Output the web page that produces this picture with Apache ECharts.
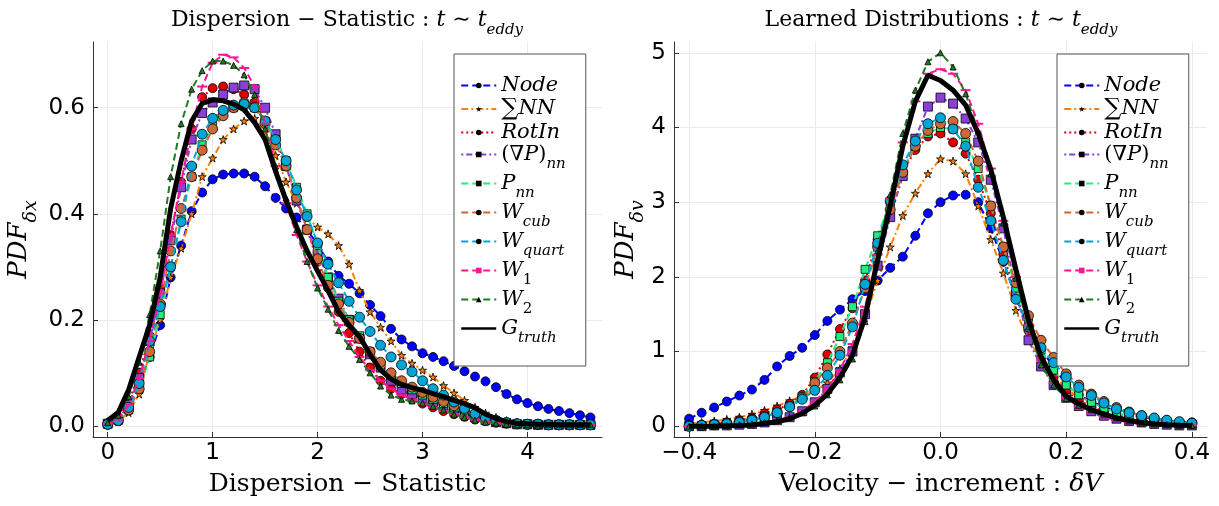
<!DOCTYPE html>
<html><head><meta charset="utf-8">
<script src="https://cdn.jsdelivr.net/npm/echarts@6/dist/echarts.min.js"></script>
<style>html,body{margin:0;padding:0;background:#fff}#c{width:1219px;height:506px}</style>
</head><body><div id="c"></div>
<script>
// ---------- series names ----------
const seriesNames = ['Node','ΣNN','RotIn','(∇P)_nn','P_nn','W_cub','W_quart','W_1','W_2','G_truth'];

// ---------- left panel: dispersion statistic ----------
const xDisp = [0,0.1,0.2,0.3,0.4,0.5,0.6,0.7,0.8,0.9,1.0,1.1,1.2,1.3,1.4,1.5,1.6,1.7,1.8,1.9,2.0,2.1,2.2,2.3,2.4,2.5,2.6,2.7,2.8,2.9,3.0,3.1,3.2,3.3,3.4,3.5,3.6,3.7,3.8,3.9,4.0,4.1,4.2,4.3,4.4,4.5,4.6];
const dispNode = [0.003,0.01,0.035,0.075,0.13,0.19,0.28,0.34,0.405,0.44,0.465,0.474,0.476,0.476,0.47,0.452,0.43,0.41,0.393,0.37,0.342,0.31,0.283,0.268,0.25,0.228,0.207,0.183,0.163,0.15,0.137,0.13,0.122,0.113,0.103,0.093,0.084,0.073,0.06,0.05,0.043,0.037,0.032,0.028,0.024,0.02,0.016];
const dispSum = [0.003,0.008,0.025,0.06,0.14,0.2,0.28,0.335,0.4,0.47,0.505,0.54,0.56,0.575,0.58,0.555,0.51,0.46,0.42,0.392,0.375,0.362,0.34,0.305,0.255,0.215,0.186,0.16,0.133,0.118,0.105,0.092,0.076,0.062,0.048,0.035,0.024,0.016,0.01,0.007,0.005,0.004,0.003,0.003,0.002,0.002,0.002];
const dispRot = [0.005,0.015,0.045,0.1,0.17,0.26,0.36,0.46,0.56,0.62,0.637,0.64,0.635,0.625,0.61,0.575,0.54,0.49,0.43,0.37,0.31,0.26,0.215,0.175,0.14,0.11,0.085,0.07,0.06,0.05,0.042,0.035,0.028,0.022,0.017,0.012,0.009,0.006,0.004,0.003,0.003,0.002,0.002,0.002,0.002,0.002,0.002];
const dispGradP = [0.004,0.012,0.04,0.09,0.16,0.25,0.35,0.45,0.54,0.59,0.61,0.625,0.638,0.642,0.635,0.6,0.55,0.49,0.425,0.37,0.325,0.28,0.24,0.2,0.165,0.135,0.11,0.085,0.068,0.06,0.052,0.045,0.038,0.03,0.022,0.016,0.011,0.007,0.005,0.003,0.003,0.002,0.002,0.002,0.002,0.002,0.002];
const dispPnn = [0.004,0.01,0.03,0.07,0.13,0.21,0.3,0.39,0.47,0.53,0.565,0.59,0.6,0.605,0.6,0.575,0.54,0.5,0.45,0.4,0.34,0.28,0.235,0.2,0.17,0.14,0.115,0.095,0.08,0.068,0.058,0.05,0.042,0.034,0.026,0.02,0.014,0.009,0.006,0.004,0.003,0.003,0.002,0.002,0.002,0.002,0.002];
const dispWcub = [0.003,0.01,0.03,0.07,0.14,0.23,0.33,0.41,0.47,0.52,0.56,0.585,0.6,0.61,0.6,0.57,0.53,0.49,0.43,0.37,0.315,0.265,0.23,0.195,0.165,0.14,0.12,0.1,0.085,0.073,0.063,0.054,0.046,0.038,0.03,0.022,0.015,0.01,0.006,0.004,0.003,0.003,0.002,0.002,0.002,0.002,0.002];
const dispWq = [0.003,0.01,0.035,0.08,0.16,0.225,0.3,0.385,0.49,0.55,0.58,0.595,0.605,0.607,0.6,0.575,0.54,0.5,0.445,0.395,0.345,0.305,0.27,0.235,0.205,0.178,0.152,0.13,0.115,0.102,0.085,0.07,0.058,0.045,0.033,0.023,0.015,0.01,0.006,0.004,0.003,0.003,0.002,0.002,0.002,0.002,0.002];
const dispW1 = [0.004,0.012,0.04,0.09,0.16,0.25,0.36,0.46,0.56,0.64,0.685,0.7,0.695,0.675,0.64,0.57,0.49,0.42,0.36,0.31,0.265,0.225,0.19,0.16,0.13,0.105,0.085,0.07,0.058,0.05,0.042,0.035,0.028,0.022,0.016,0.012,0.008,0.005,0.003,0.003,0.002,0.002,0.002,0.002,0.002,0.002,0.002];
const dispW2 = [0.006,0.02,0.055,0.12,0.21,0.33,0.47,0.57,0.635,0.67,0.688,0.688,0.68,0.662,0.625,0.56,0.49,0.43,0.37,0.31,0.26,0.22,0.18,0.15,0.125,0.1,0.075,0.058,0.05,0.047,0.043,0.037,0.03,0.022,0.016,0.011,0.007,0.005,0.003,0.003,0.002,0.002,0.002,0.002,0.002,0.002,0.002];
const dispG = [0.01,0.025,0.068,0.13,0.19,0.28,0.41,0.5,0.575,0.608,0.615,0.613,0.607,0.596,0.572,0.54,0.48,0.425,0.375,0.33,0.292,0.255,0.215,0.19,0.168,0.135,0.105,0.088,0.078,0.072,0.067,0.061,0.055,0.048,0.042,0.034,0.022,0.014,0.008,0.005,0.004,0.003,0.003,0.002,0.002,0.002,0.002];

// ---------- right panel: velocity increment ----------
const xVel = [-0.4,-0.38,-0.36,-0.34,-0.32,-0.3,-0.28,-0.26,-0.24,-0.22,-0.2,-0.18,-0.16,-0.14,-0.12,-0.1,-0.08,-0.06,-0.04,-0.02,0,0.02,0.04,0.06,0.08,0.1,0.12,0.14,0.16,0.18,0.2,0.22,0.24,0.26,0.28,0.3,0.32,0.34,0.36,0.38,0.4];
const velNode = [0.1,0.18,0.25,0.33,0.41,0.49,0.62,0.8,0.94,1.05,1.22,1.41,1.56,1.7,1.81,1.95,2.12,2.27,2.55,2.85,3.0,3.09,3.1,3.0,2.65,2.2,1.72,1.33,1.03,0.79,0.56,0.42,0.33,0.26,0.2,0.16,0.12,0.1,0.08,0.06,0.05];
const velSum = [0.03,0.05,0.07,0.09,0.12,0.16,0.21,0.27,0.34,0.4,0.47,0.58,0.77,1.05,1.45,1.95,2.4,2.82,3.12,3.38,3.58,3.55,3.38,2.95,2.5,2.05,1.55,1.15,0.9,0.68,0.5,0.39,0.33,0.28,0.23,0.18,0.14,0.11,0.08,0.06,0.04];
const velRot = [0.01,0.02,0.03,0.05,0.08,0.11,0.17,0.22,0.3,0.42,0.65,0.96,1.3,1.58,1.95,2.5,3.0,3.4,3.7,3.88,3.92,3.8,3.65,3.3,2.85,2.3,1.75,1.28,0.92,0.66,0.47,0.35,0.26,0.2,0.15,0.11,0.08,0.06,0.04,0.03,0.02];
const velGradP = [0.0,0.0,0.01,0.01,0.02,0.03,0.05,0.08,0.12,0.2,0.32,0.5,0.72,1.0,1.5,2.15,2.8,3.35,3.85,4.28,4.4,4.32,4.12,3.8,3.3,2.65,1.8,1.15,0.8,0.55,0.38,0.27,0.2,0.14,0.1,0.07,0.05,0.03,0.02,0.01,0.01];
const velPnn = [0.0,0.01,0.02,0.03,0.05,0.08,0.12,0.18,0.27,0.4,0.6,0.85,1.2,1.6,2.1,2.55,3.0,3.45,3.75,3.92,4.0,3.98,3.8,3.45,2.95,2.4,1.85,1.38,1.02,0.75,0.55,0.42,0.32,0.24,0.18,0.13,0.1,0.07,0.05,0.04,0.03];
const velWcub = [0.0,0.01,0.02,0.04,0.06,0.09,0.13,0.18,0.26,0.38,0.58,0.78,1.0,1.38,1.85,2.4,2.9,3.4,3.75,3.96,4.05,4.08,3.92,3.55,2.95,2.4,1.92,1.48,1.15,0.92,0.7,0.55,0.43,0.33,0.25,0.19,0.14,0.1,0.07,0.05,0.04];
const velWq = [0.0,0.01,0.02,0.03,0.05,0.08,0.12,0.18,0.26,0.36,0.48,0.68,0.95,1.33,1.9,2.45,3.02,3.5,3.82,4.05,4.13,3.98,3.75,3.2,2.75,2.22,1.7,1.33,1.05,0.85,0.66,0.52,0.41,0.31,0.23,0.18,0.14,0.11,0.08,0.06,0.04];
const velW1 = [0.0,0.0,0.0,0.01,0.01,0.02,0.04,0.07,0.12,0.2,0.33,0.5,0.75,1.1,1.6,2.3,3.05,3.8,4.35,4.72,4.78,4.72,4.5,4.05,3.45,2.75,2.0,1.35,0.88,0.58,0.38,0.26,0.18,0.12,0.08,0.05,0.03,0.02,0.01,0.01,0.01];
const velW2 = [0.0,0.0,0.0,0.01,0.02,0.03,0.05,0.08,0.12,0.18,0.27,0.42,0.62,0.9,1.4,2.35,3.1,3.92,4.5,4.88,5.0,4.81,4.45,3.95,3.38,2.72,1.98,1.33,0.82,0.55,0.37,0.28,0.22,0.16,0.11,0.07,0.04,0.03,0.02,0.01,0.01];
const velG = [0.0,0.0,0.0,0.005,0.008,0.015,0.035,0.06,0.1,0.17,0.28,0.43,0.65,0.95,1.47,2.22,2.95,3.75,4.35,4.7,4.63,4.5,4.3,3.92,3.44,2.8,2.1,1.42,0.93,0.62,0.4,0.3,0.22,0.16,0.11,0.075,0.045,0.03,0.02,0.012,0.01];

// ---------- tick values ----------
const dispXTicks = [0,1,2,3,4];
const dispYTicks = [0.0,0.2,0.4,0.6];
const velXTicks = [-0.4,-0.2,0.0,0.2,0.4];
const velYTicks = [0,1,2,3,4,5];

const dispData = [dispNode,dispSum,dispRot,dispGradP,dispPnn,dispWcub,dispWq,dispW1,dispW2,dispG];
const velData = [velNode,velSum,velRot,velGradP,velPnn,velWcub,velWq,velW1,velW2,velG];

const STAR = 'path://M50,0 L61,35 L98,35 L68,57 L79,91 L50,70 L21,91 L32,57 L2,35 L39,35 Z';
const styles = [
  {color:'#0000ff', symbol:'circle', size:9, dash:[7,4]},
  {color:'#ff8000', symbol:STAR, size:8, dash:[7,3,2,3]},
  {color:'#dd0000', symbol:'circle', size:9, dash:[2,3]},
  {color:'#8a3fd6', symbol:'rect', size:9, dash:[2,3,6,3]},
  {color:'#22ee80', symbol:'rect', size:8, dash:[7,4]},
  {color:'#cd6839', symbol:'circle', size:10, dash:[7,4]},
  {color:'#00a5d6', symbol:'circle', size:10, dash:[7,4]},
  {color:'#ff1493', symbol:'rect', size:[10,2], dash:[7,4], noBorder:true},
  {color:'#1e7b1e', symbol:'triangle', size:6, dash:[7,4]},
  {color:'#000000', symbol:'none', size:0, dash:'solid', width:5}
];

function buildSeries(xs, ys, gi) {
  return seriesNames.map((name, k) => {
    const st = styles[k];
    return {
      name, type:'line', xAxisIndex:gi, yAxisIndex:gi,
      data: xs.map((x,i)=>[x, ys[k][i]]),
      symbol: st.symbol, symbolSize: st.size, showSymbol: st.symbol !== 'none',
      lineStyle: {color: st.color, width: st.width || 2, type: st.dash},
      itemStyle: {color: st.color, borderColor: st.noBorder ? st.color : '#000', borderWidth: st.noBorder ? 0 : 0.8},
      emphasis: {disabled:true}, z: 2 + k
    };
  });
}

function rich(base, sub, lh, subH) {
  const f = 'DejaVu Serif';
  const c = {color:'#000', fontWeight:'normal'};
  return {
    r: Object.assign({fontFamily:f, fontSize:base, lineHeight:lh, verticalAlign:'middle'}, c),
    i: Object.assign({fontFamily:f, fontStyle:'italic', fontSize:base, lineHeight:lh, verticalAlign:'middle'}, c),
    u: Object.assign({fontFamily:f, fontSize:base+3, lineHeight:lh, verticalAlign:'middle'}, c),
    s: Object.assign({fontFamily:f, fontStyle:'italic', fontSize:sub, height:subH, verticalAlign:'bottom'}, c),
    d: Object.assign({fontFamily:f, fontSize:sub, height:subH, verticalAlign:'bottom'}, c)
  };
}

const legendLabel = {
  'Node':'{i|Node}', 'ΣNN':'{u|∑}{i|NN}', 'RotIn':'{i|RotIn}', '(∇P)_nn':'{r|(∇}{i|P}{r|)}{s|nn}',
  'P_nn':'{i|P}{s|nn}', 'W_cub':'{i|W}{s|cub}', 'W_quart':'{i|W}{s|quart}', 'W_1':'{i|W}{d|1}',
  'W_2':'{i|W}{d|2}', 'G_truth':'{i|G}{s|truth}'
};

function mkLegend(left) {
  return {
    left, top: 54, orient:'vertical', selectedMode:false,
    itemWidth:35, itemHeight:7, itemGap:1.0,
    padding:[21,20,20,6], backgroundColor:'#fff', borderColor:'#555', borderWidth:1, borderRadius:0,
    itemStyle:{color:'#000', borderWidth:0},
    data: seriesNames.map(n => {
      if (n === 'W_1') return {name:n, itemStyle:{color:'#ff1493'}};
      if (n === 'G_truth') return {name:n, itemStyle:{opacity:0}, lineStyle:{width:2.5}};
      return {name:n};
    }),
    formatter: n => legendLabel[n],
    textStyle:{rich: rich(21, 15, 28, 8)},
    z: 20
  };
}

const fmtMinus = v => (v < 0 ? '−' : '') + Math.abs(v).toFixed(1);

function mkX(gi, min, max, step, ticks, fmt, name) {
  return {
    gridIndex:gi, type:'value', min, max, splitNumber: Math.round((max-min)/step),
    minInterval: step, maxInterval: step,
    axisLine:{show:true, onZero:false, lineStyle:{color:'#333', width:1}},
    axisTick:{show:true, inside:true, length:5, lineStyle:{color:'#333'}},
    axisLabel:{showMinLabel:false, showMaxLabel:false, fontFamily:'DejaVu Sans', fontSize:23, color:'#000', margin:5,
      formatter: v => ticks.some(t => Math.abs(t - v) < 1e-9) ? fmt(v) : ''},
    splitLine:{show:true, showMinLine:false, showMaxLine:false, lineStyle:{color:'#ebebeb', width:1}},
    name, nameLocation:'middle', nameGap:32, nameTextStyle:{rich: rich(25, 17, 30, 8)}
  };
}
function mkY(gi, min, max, step, ticks, fmt, name, gap) {
  return {
    gridIndex:gi, type:'value', min, max, splitNumber: Math.round((max-min)/step),
    minInterval: step, maxInterval: step,
    axisLine:{show:true, onZero:false, lineStyle:{color:'#333', width:1}},
    axisTick:{show:true, inside:true, length:5, lineStyle:{color:'#333'}},
    axisLabel:{showMinLabel:false, showMaxLabel:false, fontFamily:'DejaVu Sans', fontSize:23, color:'#000', margin:8,
      formatter: v => ticks.some(t => Math.abs(t - v) < 1e-9) ? fmt(v) : ''},
    splitLine:{show:true, showMinLine:false, showMaxLine:false, lineStyle:{color:'#ebebeb', width:1}},
    name, nameLocation:'middle', nameRotate:90, nameGap:gap, nameTextStyle:{rich: rich(26, 19, 34, 10)}
  };
}

const chart = echarts.init(document.getElementById('c'), null, {renderer:'canvas'});
chart.setOption({
  animation:false,
  backgroundColor:'#fff',
  title:[
    {text:'{r|Dispersion − Statistic : }{i|t}{r| ∼ }{i|t}{s|eddy}', left:347, top:6, textAlign:'center', padding:0,
     textStyle:{fontWeight:'normal', rich: rich(22, 15, 28, 8)}},
    {text:'{r|Learned Distributions : }{i|t}{r| ∼ }{i|t}{s|eddy}', left:941, top:6, textAlign:'center', padding:0,
     textStyle:{fontWeight:'normal', rich: rich(22, 15, 28, 8)}}
  ],
  grid:[
    {left:93, top:42, width:509, height:395, containLabel:false},
    {left:674, top:42, width:533, height:395, containLabel:false}
  ],
  xAxis:[
    mkX(0, -0.14, 4.71, 1, dispXTicks, v => String(Math.round(v)), '{r|Dispersion − Statistic}'),
    mkX(1, -0.424, 0.424, 0.2, velXTicks, fmtMinus, '{r|Velocity − increment : }{i|δV}')
  ],
  yAxis:[
    mkY(0, -0.021, 0.724, 0.2, dispYTicks, v => v.toFixed(1), '{i|PDF}{s|δx}', 57),
    mkY(1, -0.145, 5.145, 1, velYTicks, v => String(Math.round(v)), '{i|PDF}{s|δv}', 31)
  ],
  legend:[mkLegend(454), mkLegend(1057)],
  series: buildSeries(xDisp, dispData, 0).concat(buildSeries(xVel, velData, 1))
});
</script></body></html>
